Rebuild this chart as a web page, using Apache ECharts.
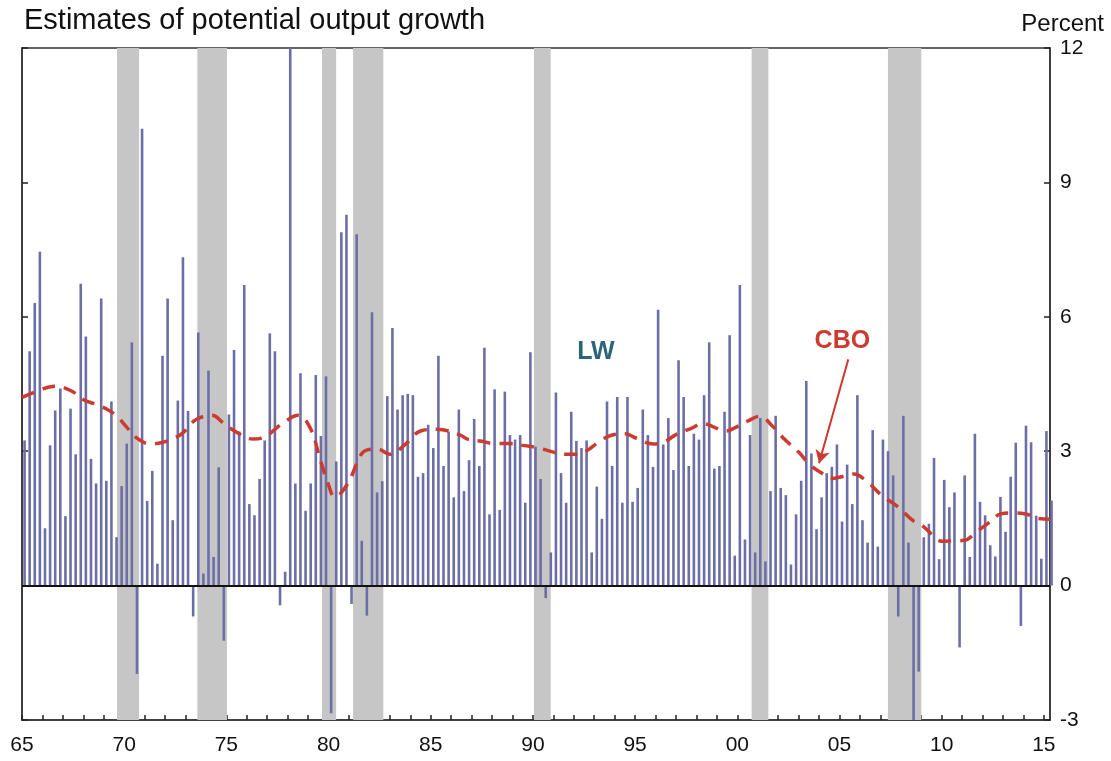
<!DOCTYPE html>
<html>
<head>
<meta charset="utf-8">
<script src="https://cdn.jsdelivr.net/npm/echarts@6/dist/echarts.min.js"></script>
<style>
html,body{margin:0;padding:0;background:#fff;}
#chart{width:1111px;height:761px;}
</style>
</head>
<body>
<div id="chart"></div>
<script>
//LW季度估计值, 1965Q1起
var startYear = 1965;
var lwValues = [
    3.24, 5.23, 6.31, 7.45,   1.28, 3.13, 3.91, 4.40,   1.55, 3.95, 2.93, 6.74,   5.56, 2.83, 2.28, 6.41,
    2.34, 4.11, 1.08, 2.22,   3.17, 5.43, -1.97, 10.2,  1.89, 2.56, 0.49, 5.13,   6.41, 1.46, 4.13, 7.33,
    3.90, -0.69, 5.65, 0.27,  4.80, 0.64, 2.64, -1.23,  3.82, 5.26, 3.44, 6.71,   1.82, 1.57, 2.38, 3.24,
    5.63, 5.23, -0.44, 0.31,  12.0, 2.28, 4.74, 1.67,   2.28, 4.70, 3.34, 4.67,   -2.85, 2.77, 7.89, 8.28,
    -0.41, 7.84, 1.00, -0.67, 6.10, 2.08, 2.33, 4.23,   5.75, 3.93, 4.25, 4.28,   4.25, 2.43, 2.51, 3.59,
    3.07, 5.13, 2.67, 3.44,   1.97, 3.93, 2.11, 2.80,   3.72, 2.67, 5.31, 1.59,   4.38, 1.69, 4.33, 3.36,
    3.26, 3.36, 1.85, 5.21,   3.10, 2.38, -0.28, 0.74,  4.31, 2.51, 1.85, 3.88,   3.23, 3.07, 3.24, 0.74,
    2.21, 1.49, 4.11, 2.67,   4.21, 1.85, 4.21, 1.87,   2.18, 3.93, 3.36, 2.65,   6.16, 3.15, 3.74, 2.58,
    5.03, 4.21, 2.67, 3.39,   3.26, 4.25, 5.43, 2.61,   2.67, 3.88, 5.59, 0.67,   6.71, 1.03, 3.36, 0.74,
    3.74, 0.54, 2.11, 3.79,   2.18, 2.02, 0.47, 1.59,   2.34, 4.57, 2.95, 1.26,   1.97, 2.51, 2.65, 3.15,
    1.43, 2.70, 1.82, 4.25,   1.46, 0.96, 3.47, 0.87,   3.26, 3.00, 2.46, -0.69,  3.79, 0.96, -3.00, -1.92,
    1.08, 1.38, 2.85, 0.59,   2.36, 1.75, 2.08, -1.38,  2.46, 0.64, 3.39, 1.87,   1.57, 0.90, 0.65, 1.98,
    1.20, 2.43, 3.19, -0.90,  3.57, 3.20, 1.56, 0.60,   3.45, 1.90
];
//CBO潜在产出增长
var cboYears = [
    1965.0, 1965.8, 1966.6, 1967.4, 1968.0, 1968.6, 1969.1, 1969.6, 1970.1, 1970.6,
    1971.3, 1971.9, 1972.5, 1972.9, 1973.5, 1974.3, 1974.8, 1975.4, 1976.3, 1976.9,
    1977.4, 1977.9, 1978.5, 1979.1, 1979.6, 1980.0, 1980.3, 1980.9, 1981.6, 1981.9,
    1982.4, 1983.0, 1983.7, 1984.5, 1985.3, 1986.4, 1986.8, 1987.5, 1988.1, 1988.9,
    1989.5, 1990.2, 1991.0, 1991.6, 1992.2, 1992.7, 1993.2, 1993.8, 1994.5, 1995.0,
    1995.9, 1996.4, 1997.0, 1997.8, 1998.3, 1998.8, 1999.4, 2000.0, 2000.5, 2001.1,
    2001.7, 2002.3, 2003.0, 2003.6, 2004.2, 2004.6, 2005.2, 2005.7, 2006.3, 2007.1,
    2007.8, 2008.6, 2009.0, 2009.6, 2010.0, 2010.6, 2011.1, 2011.7, 2012.3, 2012.9,
    2013.4, 2014.1, 2014.7, 2015.3
];
var cboValues = [
    4.20, 4.35, 4.45, 4.35, 4.15, 4.05, 3.95, 3.80, 3.55, 3.30,
    3.16, 3.20, 3.30, 3.42, 3.70, 3.80, 3.65, 3.45, 3.27, 3.32,
    3.50, 3.67, 3.80, 3.52, 2.80, 2.25, 1.98, 2.25, 2.93, 3.03,
    3.05, 2.93, 3.13, 3.45, 3.49, 3.37, 3.27, 3.22, 3.17, 3.17,
    3.13, 3.08, 2.98, 2.93, 2.93, 3.03, 3.20, 3.35, 3.39, 3.30,
    3.16, 3.20, 3.37, 3.52, 3.62, 3.55, 3.45, 3.55, 3.67, 3.78,
    3.57, 3.27, 2.98, 2.68, 2.49, 2.39, 2.44, 2.49, 2.34, 2.00,
    1.78, 1.45, 1.36, 1.11, 0.99, 1.00, 1.01, 1.20, 1.40, 1.60,
    1.62, 1.60, 1.50, 1.48
];
//衰退期
var recessions = [
    [1969.65, 1970.73], [1973.58, 1975.03], [1979.68, 1980.37], [1981.2, 1982.68],
    [1990.05, 1990.87], [2000.7, 2001.52], [2007.37, 2009.0]
];
var yTicks = [-3, 0, 3, 6, 9, 12];

var barColor = '#6c6fa6';
var cboColor = '#cc3a30';
var fontName = '"Liberation Sans", Arial, sans-serif';

function lwData() {
    var arr = [];
    for (var i = 0; i < lwValues.length; i++) {
        //季度中点
        arr.push([startYear + (i + 0.5) / 4, lwValues[i]]);
    }
    return arr;
}
function cboData() {
    var arr = [];
    for (var i = 0; i < cboYears.length; i++) {
        arr.push([cboYears[i], cboValues[i]]);
    }
    return arr;
}
function recessionAreas() {
    var arr = [];
    for (var i = 0; i < recessions.length; i++) {
        arr.push([{xAxis: recessions[i][0]}, {xAxis: recessions[i][1]}]);
    }
    return arr;
}

var chart = echarts.init(document.getElementById('chart'));
var option = {
    backgroundColor: '#fff',
    animation: false,
    title: [{
        text: 'Estimates of potential output growth',
        left: 19,
        top: 1,
        textStyle: {fontFamily: fontName, fontSize: 29, fontWeight: 'normal', color: '#111'}
    }, {
        text: 'Percent',
        right: 2,
        top: 7,
        textStyle: {fontFamily: fontName, fontSize: 24, fontWeight: 'normal', color: '#111'}
    }],
    grid: {
        left: 22,
        right: 61,
        top: 48,
        bottom: 41,
        show: true,
        borderColor: '#333',
        borderWidth: 1.5,
        backgroundColor: 'transparent'
    },
    xAxis: {
        type: 'value',
        min: 1965,
        max: 2015.3,
        interval: 1,
        splitLine: {show: false},
        axisLine: {show: true, onZero: false, lineStyle: {color: '#333', width: 1.5}},
        axisTick: {show: true, inside: true, length: 5, lineStyle: {color: '#222', width: 1.5}},
        axisLabel: {
            show: true,
            margin: 15,
            fontFamily: fontName,
            fontSize: 21,
            color: '#111',
            showMaxLabel: false,
            formatter: function (v) {
                var y = Math.round(v);
                if (y % 5 !== 0) return '';
                var s = String(y % 100);
                return s.length < 2 ? '0' + s : s;
            }
        }
    },
    yAxis: [{
        type: 'value',
        position: 'right',
        min: yTicks[0],
        max: yTicks[yTicks.length - 1],
        interval: 3,
        splitLine: {show: false},
        axisLine: {show: true, onZero: false, lineStyle: {color: '#333', width: 1.5}},
        axisTick: {show: true, inside: true, length: 6, lineStyle: {color: '#222', width: 1.5}},
        axisLabel: {margin: 10, fontFamily: fontName, fontSize: 21, color: '#111'}
    }, {
        type: 'value',
        position: 'left',
        min: yTicks[0],
        max: yTicks[yTicks.length - 1],
        interval: 3,
        splitLine: {show: false},
        axisLine: {show: true, onZero: false, lineStyle: {color: '#333', width: 1.5}},
        axisTick: {show: true, inside: true, length: 6, lineStyle: {color: '#222', width: 1.5}},
        axisLabel: {show: false}
    }],
    series: [{
        name: 'LW',
        type: 'bar',
        yAxisIndex: 0,
        barWidth: 2.6,
        itemStyle: {color: barColor},
        data: lwData(),
        markArea: {
            silent: true,
            itemStyle: {color: '#c6c6c6'},
            data: recessionAreas()
        },
        markLine: {
            silent: true,
            symbol: 'none',
            label: {show: false},
            lineStyle: {color: '#111', width: 2, type: 'solid'},
            data: [{yAxis: 0}]
        },
        markPoint: {
            silent: true,
            symbol: 'circle',
            symbolSize: 1,
            itemStyle: {color: 'rgba(0,0,0,0)'},
            label: {
                show: true,
                position: 'inside',
                formatter: 'LW',
                fontFamily: fontName,
                fontSize: 25,
                fontWeight: 'bold',
                color: '#2b6677'
            },
            data: [{coord: [1993.08, 5.22]}]
        }
    }, {
        name: 'CBO',
        type: 'line',
        yAxisIndex: 0,
        smooth: 0.4,
        showSymbol: false,
        lineStyle: {color: cboColor, width: 3.5, type: [13, 9]},
        data: cboData(),
        markLine: {
            silent: true,
            symbol: ['none', 'arrow'],
            symbolSize: [11, 13],
            label: {show: false},
            lineStyle: {color: cboColor, width: 2, type: 'solid'},
            data: [[{coord: [2005.43, 5.05]}, {coord: [2004.0, 2.73]}]]
        },
        markPoint: {
            silent: true,
            symbol: 'circle',
            symbolSize: 1,
            itemStyle: {color: 'rgba(0,0,0,0)'},
            label: {
                show: true,
                position: 'inside',
                formatter: 'CBO',
                fontFamily: fontName,
                fontSize: 25,
                fontWeight: 'bold',
                color: cboColor
            },
            data: [{coord: [2005.14, 5.45]}]
        }
    }]
};
chart.setOption(option);
</script>
</body>
</html>
